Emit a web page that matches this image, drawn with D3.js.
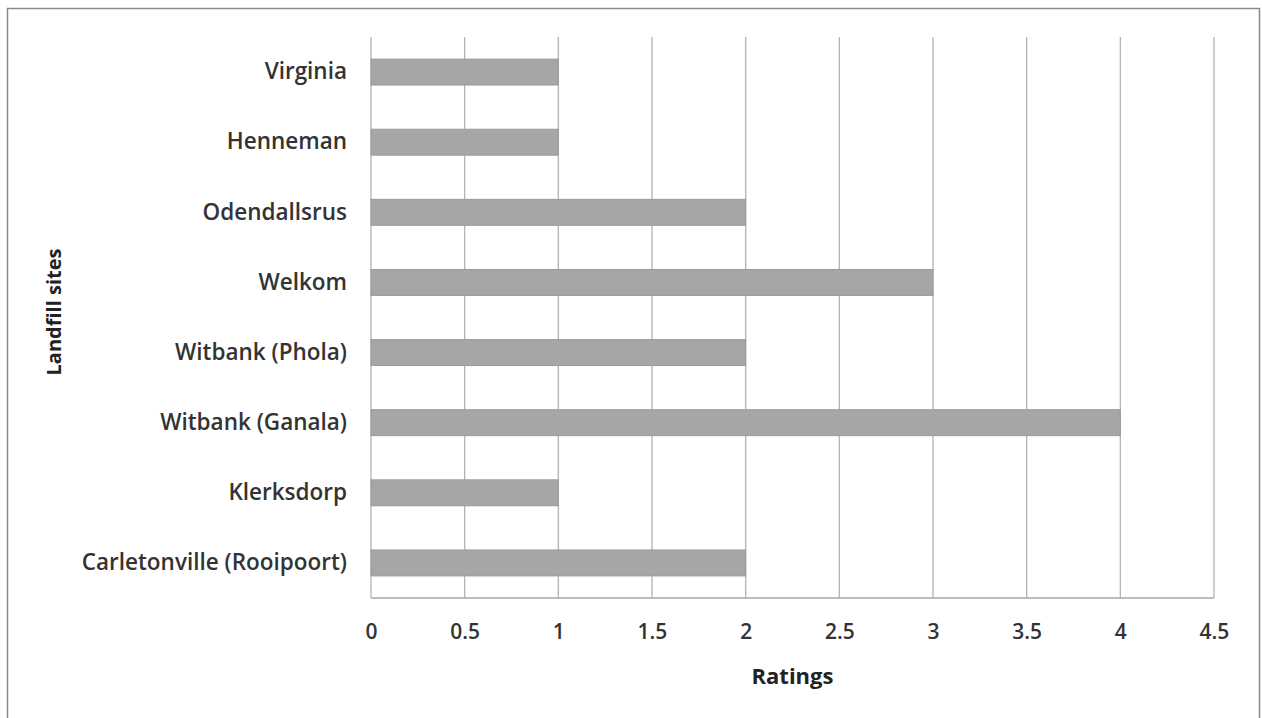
<!DOCTYPE html>
<html>
<head>
<meta charset="utf-8">
<script src="https://cdn.jsdelivr.net/npm/d3@7"></script>
<style>
  html, body { margin: 0; padding: 0; background: #fff; }
  svg { display: block; }
</style>
</head>
<body>
<svg id="chart" width="1262" height="718"></svg>
<script>
// Landfill sites and their ratings (top to bottom)
const sites = [
  "Virginia",
  "Henneman",
  "Odendallsrus",
  "Welkom",
  "Witbank (Phola)",
  "Witbank (Ganala)",
  "Klerksdorp",
  "Carletonville (Rooipoort)"
];
const ratings = [1, 1, 2, 3, 2, 4, 1, 2];
const xTicks = [0, 0.5, 1, 1.5, 2, 2.5, 3, 3.5, 4, 4.5];

const svg = d3.select("#chart");
const W = 1262, H = 718;
const margin = { left: 371, right: 48, top: 37, bottom: 120 };
const plotW = W - margin.left - margin.right;
const plotH = H - margin.top - margin.bottom;
const font = "'Open Sans', Lato, sans-serif";

// Outer frame
svg.append("rect")
  .attr("x", 7.5).attr("y", 8.5)
  .attr("width", 1252).attr("height", 720)
  .attr("fill", "none")
  .attr("stroke", "#8a8a8a")
  .attr("stroke-width", 1.5);

const g = svg.append("g").attr("transform", `translate(${margin.left},${margin.top})`);

const x = d3.scaleLinear().domain([0, 4.5]).range([0, plotW]);
const y = d3.scaleBand().domain(sites).range([0, plotH]).paddingInner(0.63).paddingOuter(0.315);

// Vertical gridlines
g.selectAll("line.grid")
  .data(xTicks)
  .join("line")
  .attr("class", "grid")
  .attr("x1", d => x(d)).attr("x2", d => x(d))
  .attr("y1", 0).attr("y2", plotH)
  .attr("stroke", "#b4b4b4")
  .attr("stroke-width", 1.3);

// Bottom baseline
g.append("line")
  .attr("x1", 0).attr("x2", x(4.5))
  .attr("y1", plotH).attr("y2", plotH)
  .attr("stroke", "#a8a8a8")
  .attr("stroke-width", 1.3);

// Bars
g.selectAll("rect.bar")
  .data(sites)
  .join("rect")
  .attr("class", "bar")
  .attr("x", 0)
  .attr("y", d => y(d))
  .attr("width", (d, i) => x(ratings[i]))
  .attr("height", y.bandwidth())
  .attr("fill", "#a6a6a6")
  .attr("stroke", "#9a9a9a")
  .attr("stroke-width", 1);

// X axis labels
const xAxis = d3.axisBottom(x).tickValues(xTicks).tickSize(0).tickPadding(0)
  .tickFormat(d => String(d));
const xa = g.append("g").attr("transform", `translate(0,${plotH + 26})`).call(xAxis);
xa.select(".domain").remove();
xa.selectAll("text")
  .attr("font-family", font)
  .attr("font-size", 21)
  .attr("font-weight", 600)
  .attr("fill", "#333")
  .attr("dy", "0.71em");

// Y axis labels
const yAxis = d3.axisLeft(y).tickSize(0).tickPadding(24);
const ya = g.append("g").call(yAxis);
ya.select(".domain").remove();
ya.selectAll("text")
  .attr("font-family", font)
  .attr("font-size", 22.5)
  .attr("font-weight", 600)
  .attr("fill", "#333");

// Axis titles
svg.append("text")
  .attr("x", margin.left + x(2.25))
  .attr("y", 684)
  .attr("text-anchor", "middle")
  .attr("font-family", font)
  .attr("font-size", 22)
  .attr("font-weight", "bold")
  .attr("fill", "#222")
  .text("Ratings");

svg.append("text")
  .attr("transform", `translate(61,312) rotate(-90)`)
  .attr("text-anchor", "middle")
  .attr("font-family", font)
  .attr("font-size", 20)
  .attr("font-weight", "bold")
  .attr("fill", "#222")
  .text("Landfill sites");
</script>
</body>
</html>
